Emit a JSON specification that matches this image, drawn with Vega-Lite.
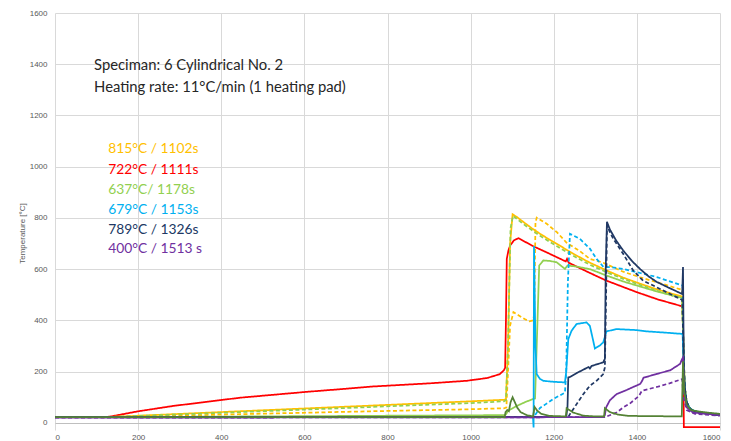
{
"$schema":"https://vega.github.io/schema/vega-lite/v6.json",
"width":665,"height":417,
"autosize":{"type":"none"},
"padding":{"left":55,"top":13,"right":11,"bottom":11},
"background":"white",
"config":{"view":{"stroke":null},"font":"Liberation Sans",
 "axis":{"domain":false,"ticks":false,"grid":true,"gridColor":"#d9d9d9","gridWidth":1,"labelColor":"#595959","labelFontSize":8,"tickCount":8,"format":"d"},
 "axisX":{"labelPadding":3},
 "axisY":{"labelPadding":8,"titleFontSize":8,"titleFontWeight":"normal","titleColor":"#595959","titleX":-33,"titleY":220,"titleAngle":270,"titleAlign":"center","titleBaseline":"middle","gridColor":{"condition":{"test":"datum.value === 0","value":"#bfbfbf"},"value":"#d9d9d9"}}
},
"datasets":{
"lines":[
{"k":"R","p":"s","t":0,"T":22},{"k":"R","p":"s","t":120,"T":22},{"k":"R","p":"s","t":135,"T":25},{"k":"R","p":"s","t":200,"T":45},{"k":"R","p":"s","t":285,"T":66},{"k":"R","p":"s","t":385,"T":86},{"k":"R","p":"s","t":445,"T":98},{"k":"R","p":"s","t":606,"T":121},{"k":"R","p":"s","t":700,"T":133},{"k":"R","p":"s","t":766,"T":142},{"k":"R","p":"s","t":800,"T":145},{"k":"R","p":"s","t":900,"T":154},{"k":"R","p":"s","t":990,"T":164},{"k":"R","p":"s","t":1040,"T":175},{"k":"R","p":"s","t":1070,"T":190},{"k":"R","p":"s","t":1080,"T":205},{"k":"R","p":"s","t":1083,"T":215},{"k":"R","p":"s","t":1085,"T":400},{"k":"R","p":"s","t":1087,"T":640},{"k":"R","p":"s","t":1091,"T":673},{"k":"R","p":"s","t":1095,"T":692},{"k":"R","p":"s","t":1104,"T":712},{"k":"R","p":"s","t":1115,"T":721},{"k":"R","p":"s","t":1150,"T":690},{"k":"R","p":"s","t":1190,"T":660},{"k":"R","p":"s","t":1229,"T":630},{"k":"R","p":"s","t":1232,"T":640},{"k":"R","p":"s","t":1236,"T":625},{"k":"R","p":"s","t":1287,"T":585},{"k":"R","p":"s","t":1327,"T":555},{"k":"R","p":"s","t":1400,"T":510},{"k":"R","p":"s","t":1450,"T":482},{"k":"R","p":"s","t":1511,"T":454},{"k":"R","p":"s","t":1513,"T":-17},{"k":"R","p":"s","t":1600,"T":-17},

{"k":"Y","p":"s","t":0,"T":22},{"k":"Y","p":"s","t":120,"T":22},{"k":"Y","p":"s","t":400,"T":42},{"k":"Y","p":"s","t":700,"T":63},{"k":"Y","p":"s","t":1000,"T":84},{"k":"Y","p":"s","t":1080,"T":90},{"k":"Y","p":"s","t":1085,"T":92},{"k":"Y","p":"s","t":1090,"T":300},{"k":"Y","p":"s","t":1095,"T":700},{"k":"Y","p":"s","t":1101,"T":814},{"k":"Y","p":"s","t":1110,"T":805},{"k":"Y","p":"s","t":1127,"T":784},{"k":"Y","p":"s","t":1147,"T":760},{"k":"Y","p":"s","t":1167,"T":738},{"k":"Y","p":"s","t":1187,"T":718},{"k":"Y","p":"s","t":1207,"T":699},{"k":"Y","p":"s","t":1247,"T":660},{"k":"Y","p":"s","t":1287,"T":625},{"k":"Y","p":"s","t":1327,"T":595},{"k":"Y","p":"s","t":1367,"T":567},{"k":"Y","p":"s","t":1408,"T":543},{"k":"Y","p":"s","t":1448,"T":521},{"k":"Y","p":"s","t":1509,"T":493},{"k":"Y","p":"s","t":1512,"T":300},{"k":"Y","p":"s","t":1515,"T":140},{"k":"Y","p":"s","t":1520,"T":80},{"k":"Y","p":"s","t":1528,"T":55},{"k":"Y","p":"s","t":1540,"T":45},{"k":"Y","p":"s","t":1560,"T":38},{"k":"Y","p":"s","t":1600,"T":30},

{"k":"Y","p":"d","t":0,"T":22},{"k":"Y","p":"d","t":120,"T":22},{"k":"Y","p":"d","t":400,"T":32},{"k":"Y","p":"d","t":700,"T":43},{"k":"Y","p":"d","t":1000,"T":53},{"k":"Y","p":"d","t":1082,"T":57},{"k":"Y","p":"d","t":1086,"T":60},{"k":"Y","p":"d","t":1090,"T":200},{"k":"Y","p":"d","t":1095,"T":380},{"k":"Y","p":"d","t":1103,"T":432},{"k":"Y","p":"d","t":1115,"T":420},{"k":"Y","p":"d","t":1130,"T":405},{"k":"Y","p":"d","t":1142,"T":396},{"k":"Y","p":"d","t":1150,"T":400},{"k":"Y","p":"d","t":1153,"T":420},{"k":"Y","p":"d","t":1156,"T":780},{"k":"Y","p":"d","t":1159,"T":801},{"k":"Y","p":"d","t":1183,"T":777},{"k":"Y","p":"d","t":1207,"T":745},{"k":"Y","p":"d","t":1231,"T":703},{"k":"Y","p":"d","t":1263,"T":670},{"k":"Y","p":"d","t":1287,"T":640},{"k":"Y","p":"d","t":1319,"T":625},{"k":"Y","p":"d","t":1367,"T":590},{"k":"Y","p":"d","t":1408,"T":568},{"k":"Y","p":"d","t":1448,"T":549},{"k":"Y","p":"d","t":1509,"T":519},{"k":"Y","p":"d","t":1512,"T":300},{"k":"Y","p":"d","t":1515,"T":140},{"k":"Y","p":"d","t":1520,"T":80},{"k":"Y","p":"d","t":1528,"T":55},{"k":"Y","p":"d","t":1540,"T":45},{"k":"Y","p":"d","t":1560,"T":38},{"k":"Y","p":"d","t":1600,"T":30},

{"k":"G","p":"s","t":0,"T":22},{"k":"G","p":"s","t":120,"T":22},{"k":"G","p":"s","t":600,"T":26},{"k":"G","p":"s","t":1080,"T":30},{"k":"G","p":"s","t":1085,"T":33},{"k":"G","p":"s","t":1090,"T":47},{"k":"G","p":"s","t":1110,"T":65},{"k":"G","p":"s","t":1130,"T":80},{"k":"G","p":"s","t":1150,"T":93},{"k":"G","p":"s","t":1155,"T":95},{"k":"G","p":"s","t":1159,"T":300},{"k":"G","p":"s","t":1165,"T":614},{"k":"G","p":"s","t":1175,"T":634},{"k":"G","p":"s","t":1190,"T":632},{"k":"G","p":"s","t":1207,"T":627},{"k":"G","p":"s","t":1227,"T":601},{"k":"G","p":"s","t":1233,"T":614},{"k":"G","p":"s","t":1255,"T":610},{"k":"G","p":"s","t":1287,"T":600},{"k":"G","p":"s","t":1327,"T":575},{"k":"G","p":"s","t":1367,"T":552},{"k":"G","p":"s","t":1408,"T":532},{"k":"G","p":"s","t":1448,"T":513},{"k":"G","p":"s","t":1509,"T":488},{"k":"G","p":"s","t":1512,"T":300},{"k":"G","p":"s","t":1515,"T":140},{"k":"G","p":"s","t":1520,"T":80},{"k":"G","p":"s","t":1528,"T":55},{"k":"G","p":"s","t":1540,"T":45},{"k":"G","p":"s","t":1560,"T":38},{"k":"G","p":"s","t":1600,"T":30},

{"k":"G","p":"d","t":0,"T":22},{"k":"G","p":"d","t":120,"T":22},{"k":"G","p":"d","t":400,"T":39},{"k":"G","p":"d","t":700,"T":58},{"k":"G","p":"d","t":1000,"T":77},{"k":"G","p":"d","t":1080,"T":84},{"k":"G","p":"d","t":1085,"T":88},{"k":"G","p":"d","t":1090,"T":300},{"k":"G","p":"d","t":1096,"T":760},{"k":"G","p":"d","t":1102,"T":808},{"k":"G","p":"d","t":1127,"T":776},{"k":"G","p":"d","t":1167,"T":730},{"k":"G","p":"d","t":1207,"T":690},{"k":"G","p":"d","t":1247,"T":652},{"k":"G","p":"d","t":1287,"T":617},{"k":"G","p":"d","t":1327,"T":588},{"k":"G","p":"d","t":1367,"T":562},{"k":"G","p":"d","t":1408,"T":538},{"k":"G","p":"d","t":1448,"T":515},{"k":"G","p":"d","t":1509,"T":485},{"k":"G","p":"d","t":1512,"T":300},{"k":"G","p":"d","t":1515,"T":140},{"k":"G","p":"d","t":1520,"T":80},{"k":"G","p":"d","t":1528,"T":55},{"k":"G","p":"d","t":1540,"T":45},{"k":"G","p":"d","t":1560,"T":38},{"k":"G","p":"d","t":1600,"T":30},

{"k":"C","p":"s","t":0,"T":22},{"k":"C","p":"s","t":1150,"T":23},{"k":"C","p":"s","t":1151.5,"T":-18},{"k":"C","p":"s","t":1152.5,"T":690},{"k":"C","p":"s","t":1156,"T":300},{"k":"C","p":"s","t":1159,"T":190},{"k":"C","p":"s","t":1167,"T":171},{"k":"C","p":"s","t":1175,"T":164},{"k":"C","p":"s","t":1200,"T":160},{"k":"C","p":"s","t":1227,"T":158},{"k":"C","p":"s","t":1230,"T":200},{"k":"C","p":"s","t":1235,"T":327},{"k":"C","p":"s","t":1243,"T":360},{"k":"C","p":"s","t":1255,"T":386},{"k":"C","p":"s","t":1279,"T":392},{"k":"C","p":"s","t":1287,"T":378},{"k":"C","p":"s","t":1295,"T":320},{"k":"C","p":"s","t":1299,"T":290},{"k":"C","p":"s","t":1311,"T":302},{"k":"C","p":"s","t":1319,"T":314},{"k":"C","p":"s","t":1327,"T":357},{"k":"C","p":"s","t":1351,"T":366},{"k":"C","p":"s","t":1400,"T":362},{"k":"C","p":"s","t":1424,"T":357},{"k":"C","p":"s","t":1470,"T":352},{"k":"C","p":"s","t":1510,"T":347},{"k":"C","p":"s","t":1512,"T":250},{"k":"C","p":"s","t":1515,"T":130},{"k":"C","p":"s","t":1520,"T":80},{"k":"C","p":"s","t":1528,"T":55},{"k":"C","p":"s","t":1540,"T":45},{"k":"C","p":"s","t":1560,"T":38},{"k":"C","p":"s","t":1600,"T":30},

{"k":"C","p":"d","t":0,"T":22},{"k":"C","p":"d","t":1150,"T":23},{"k":"C","p":"d","t":1155,"T":30},{"k":"C","p":"d","t":1160,"T":42},{"k":"C","p":"d","t":1167,"T":58},{"k":"C","p":"d","t":1180,"T":72},{"k":"C","p":"d","t":1199,"T":93},{"k":"C","p":"d","t":1227,"T":118},{"k":"C","p":"d","t":1230,"T":200},{"k":"C","p":"d","t":1234,"T":550},{"k":"C","p":"d","t":1239,"T":738},{"k":"C","p":"d","t":1263,"T":718},{"k":"C","p":"d","t":1287,"T":680},{"k":"C","p":"d","t":1303,"T":640},{"k":"C","p":"d","t":1320,"T":608},{"k":"C","p":"d","t":1335,"T":608},{"k":"C","p":"d","t":1367,"T":601},{"k":"C","p":"d","t":1408,"T":585},{"k":"C","p":"d","t":1448,"T":569},{"k":"C","p":"d","t":1510,"T":536},{"k":"C","p":"d","t":1512,"T":300},{"k":"C","p":"d","t":1515,"T":140},{"k":"C","p":"d","t":1520,"T":80},{"k":"C","p":"d","t":1528,"T":55},{"k":"C","p":"d","t":1540,"T":45},{"k":"C","p":"d","t":1560,"T":38},{"k":"C","p":"d","t":1600,"T":30},

{"k":"N","p":"s","t":0,"T":22},{"k":"N","p":"s","t":1230,"T":23},{"k":"N","p":"s","t":1233,"T":60},{"k":"N","p":"s","t":1235,"T":177},{"k":"N","p":"s","t":1239,"T":179},{"k":"N","p":"s","t":1256,"T":195},{"k":"N","p":"s","t":1279,"T":214},{"k":"N","p":"s","t":1284,"T":218},{"k":"N","p":"s","t":1287,"T":212},{"k":"N","p":"s","t":1291,"T":222},{"k":"N","p":"s","t":1319,"T":236},{"k":"N","p":"s","t":1323,"T":250},{"k":"N","p":"s","t":1325,"T":600},{"k":"N","p":"s","t":1328,"T":785},{"k":"N","p":"s","t":1335,"T":755},{"k":"N","p":"s","t":1350,"T":712},{"k":"N","p":"s","t":1367,"T":673},{"k":"N","p":"s","t":1388,"T":632},{"k":"N","p":"s","t":1408,"T":600},{"k":"N","p":"s","t":1428,"T":572},{"k":"N","p":"s","t":1448,"T":550},{"k":"N","p":"s","t":1480,"T":525},{"k":"N","p":"s","t":1509,"T":503},{"k":"N","p":"s","t":1511,"T":608},{"k":"N","p":"s","t":1513,"T":200},{"k":"N","p":"s","t":1517,"T":100},{"k":"N","p":"s","t":1522,"T":65},{"k":"N","p":"s","t":1530,"T":50},{"k":"N","p":"s","t":1545,"T":42},{"k":"N","p":"s","t":1570,"T":36},{"k":"N","p":"s","t":1600,"T":30},

{"k":"N","p":"d","t":0,"T":22},{"k":"N","p":"d","t":1235,"T":23},{"k":"N","p":"d","t":1239,"T":34},{"k":"N","p":"d","t":1255,"T":73},{"k":"N","p":"d","t":1271,"T":112},{"k":"N","p":"d","t":1287,"T":145},{"k":"N","p":"d","t":1303,"T":164},{"k":"N","p":"d","t":1319,"T":190},{"k":"N","p":"d","t":1323,"T":216},{"k":"N","p":"d","t":1326,"T":500},{"k":"N","p":"d","t":1328,"T":770},{"k":"N","p":"d","t":1335,"T":745},{"k":"N","p":"d","t":1343,"T":719},{"k":"N","p":"d","t":1367,"T":660},{"k":"N","p":"d","t":1391,"T":595},{"k":"N","p":"d","t":1415,"T":555},{"k":"N","p":"d","t":1448,"T":529},{"k":"N","p":"d","t":1480,"T":503},{"k":"N","p":"d","t":1509,"T":480},{"k":"N","p":"d","t":1512,"T":300},{"k":"N","p":"d","t":1515,"T":140},{"k":"N","p":"d","t":1520,"T":80},{"k":"N","p":"d","t":1528,"T":55},{"k":"N","p":"d","t":1540,"T":45},{"k":"N","p":"d","t":1560,"T":38},{"k":"N","p":"d","t":1600,"T":30},

{"k":"P","p":"s","t":0,"T":20},{"k":"P","p":"s","t":1320,"T":22},{"k":"P","p":"s","t":1323,"T":30},{"k":"P","p":"s","t":1326,"T":60},{"k":"P","p":"s","t":1335,"T":88},{"k":"P","p":"s","t":1351,"T":112},{"k":"P","p":"s","t":1375,"T":128},{"k":"P","p":"s","t":1408,"T":152},{"k":"P","p":"s","t":1412,"T":162},{"k":"P","p":"s","t":1416,"T":176},{"k":"P","p":"s","t":1448,"T":191},{"k":"P","p":"s","t":1480,"T":205},{"k":"P","p":"s","t":1504,"T":230},{"k":"P","p":"s","t":1509,"T":250},{"k":"P","p":"s","t":1511,"T":255},{"k":"P","p":"s","t":1514,"T":120},{"k":"P","p":"s","t":1520,"T":60},{"k":"P","p":"s","t":1535,"T":40},{"k":"P","p":"s","t":1600,"T":30},

{"k":"P","p":"d","t":0,"T":20},{"k":"P","p":"d","t":1323,"T":22},{"k":"P","p":"d","t":1351,"T":40},{"k":"P","p":"d","t":1367,"T":60},{"k":"P","p":"d","t":1383,"T":75},{"k":"P","p":"d","t":1405,"T":105},{"k":"P","p":"d","t":1412,"T":125},{"k":"P","p":"d","t":1448,"T":140},{"k":"P","p":"d","t":1480,"T":155},{"k":"P","p":"d","t":1509,"T":171},{"k":"P","p":"d","t":1512,"T":100},{"k":"P","p":"d","t":1520,"T":50},{"k":"P","p":"d","t":1540,"T":35},{"k":"P","p":"d","t":1600,"T":28},

{"k":"D","p":"s","t":0,"T":22},{"k":"D","p":"s","t":1082,"T":22},{"k":"D","p":"s","t":1084,"T":42},{"k":"D","p":"s","t":1088,"T":50},{"k":"D","p":"s","t":1092,"T":45},{"k":"D","p":"s","t":1096,"T":80},{"k":"D","p":"s","t":1101,"T":100},{"k":"D","p":"s","t":1106,"T":82},{"k":"D","p":"s","t":1112,"T":60},{"k":"D","p":"s","t":1120,"T":42},{"k":"D","p":"s","t":1135,"T":30},{"k":"D","p":"s","t":1150,"T":25},{"k":"D","p":"s","t":1154,"T":62},{"k":"D","p":"s","t":1160,"T":48},{"k":"D","p":"s","t":1170,"T":35},{"k":"D","p":"s","t":1190,"T":27},{"k":"D","p":"s","t":1229,"T":25},{"k":"D","p":"s","t":1231,"T":57},{"k":"D","p":"s","t":1247,"T":40},{"k":"D","p":"s","t":1271,"T":28},{"k":"D","p":"s","t":1300,"T":25},{"k":"D","p":"s","t":1321,"T":25},{"k":"D","p":"s","t":1323,"T":57},{"k":"D","p":"s","t":1335,"T":42},{"k":"D","p":"s","t":1355,"T":32},{"k":"D","p":"s","t":1380,"T":27},{"k":"D","p":"s","t":1508,"T":25},{"k":"D","p":"s","t":1511,"T":240},{"k":"D","p":"s","t":1514,"T":120},{"k":"D","p":"s","t":1520,"T":70},{"k":"D","p":"s","t":1530,"T":50},{"k":"D","p":"s","t":1545,"T":45},{"k":"D","p":"s","t":1570,"T":40},{"k":"D","p":"s","t":1600,"T":35}
],
"runs":[
{"k":"Y","label":"815°C / 1102s","t":128,"T":1068},
{"k":"R","label":"722°C / 1111s","t":128,"T":988},
{"k":"G","label":"637°C/ 1178s","t":128,"T":909},
{"k":"C","label":"679°C / 1153s","t":128,"T":831},
{"k":"N","label":"789°C / 1326s","t":128,"T":753},
{"k":"P","label":"400°C / 1513 s","t":128,"T":678}
],
"notes":[
{"label":"Speciman: 6 Cylindrical No. 2","t":94,"T":1392},
{"label":"Heating rate: 11°C/min (1 heating pad)","t":94,"T":1306}
]
},
"layer":[
{"data":{"name":"lines"},
 "mark":{"type":"line","strokeWidth":1.75,"clip":true},
 "encoding":{
  "x":{"field":"t","type":"quantitative","title":null,"scale":{"domain":[0,1600],"nice":false}},
  "y":{"field":"T","type":"quantitative","title":"Temperature [°C]","scale":{"domain":[-28,1600],"nice":false}},
  "color":{"field":"k","type":"nominal","legend":null,"scale":{"domain":["R","Y","G","C","N","P","D"],"range":["#FF0000","#FFC000","#92D050","#00B0F0","#203864","#7030A0","#548235"]}},
  "strokeDash":{"field":"p","type":"nominal","legend":null,"scale":{"domain":["s","d"],"range":[[1,0],[4,2.5]]}}
 }},
{"data":{"name":"runs"},
 "mark":{"type":"text","align":"left","baseline":"middle","font":"Lato","fontSize":13.8},
 "encoding":{
  "x":{"field":"t","type":"quantitative","title":null},
  "y":{"field":"T","type":"quantitative","title":"Temperature [°C]"},
  "text":{"field":"label"},
  "color":{"field":"k","type":"nominal","legend":null}
 }},
{"data":{"name":"notes"},
 "mark":{"type":"text","align":"left","baseline":"middle","font":"Lato","fontSize":14.8,"color":"#262626"},
 "encoding":{
  "x":{"field":"t","type":"quantitative","title":null},
  "y":{"field":"T","type":"quantitative","title":"Temperature [°C]"},
  "text":{"field":"label"}
 }}
]
}
